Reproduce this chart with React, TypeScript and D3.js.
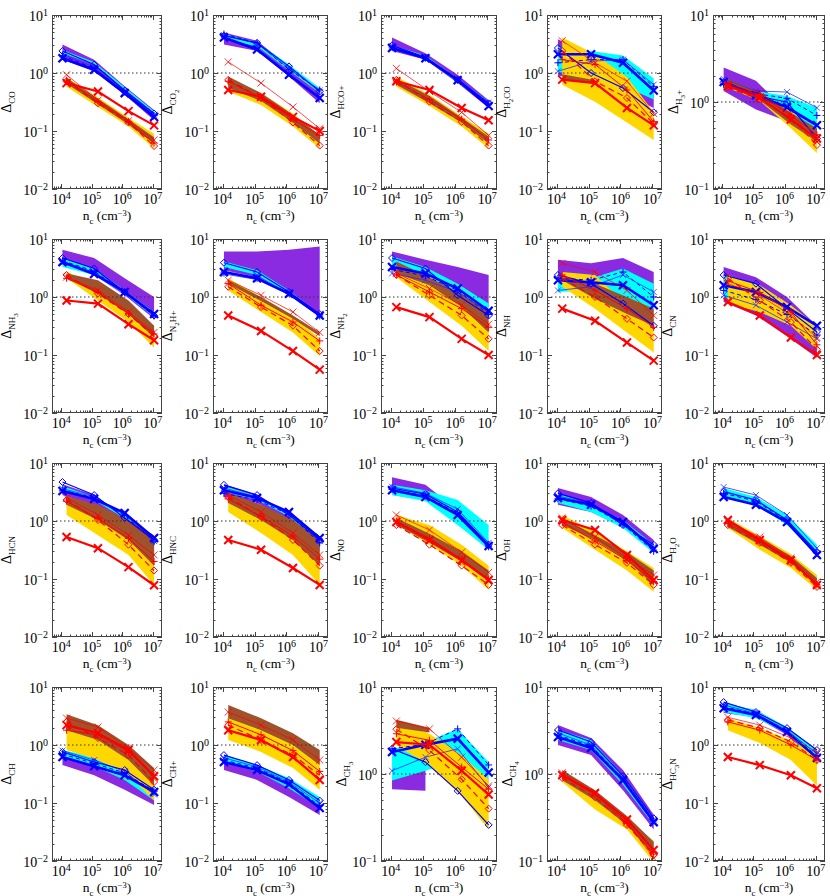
import React, { useEffect, useRef } from 'react';
import * as d3 from 'd3';

// one panel per species, row by row; "_" drops the next digit one more level
const species = ['CO', 'CO_2', 'HCO+', 'H_2CO', 'H_3+', 'NH_3', 'N_2H+', 'NH_2', 'NH', 'CN',
  'HCN', 'HNC', 'NO', 'OH', 'H_2O', 'CH', 'CH+', 'CH_3', 'CH_4', 'HC_3N'];

// bottom of the y axis for every panel (the top is always 10)
const yFloor = [0.01, 0.01, 0.01, 0.01, 0.1, 0.01, 0.01, 0.01, 0.01, 0.01,
  0.01, 0.01, 0.01, 0.01, 0.01, 0.01, 0.01, 0.1, 0.1, 0.01];

const densBlue = [1.1e4, 1.2e5, 1.2e6, 1.1e7];
const densRed = [1.5e4, 1.6e5, 1.6e6, 1.1e7];
const xTicks = [1e4, 1e5, 1e6, 1e7];

const purpleLo = [
  [1.7, 1.07, 0.42, 0.153], [3.1, 2.4, 0.87, 0.3], [2.4, 1.7, 0.67, 0.25], [0.9, 0.8, 0.45, 0.25], [1.34, 0.82, 0.6, 0.34],
  [3.6, 2.4, 1.07, 0.42], [2.9, 2.2, 1.22, 0.48], [3.6, 2.55, 1.5, 0.67], [1.95, 2.1, 2.1, 0.93], [0.82, 0.48, 0.21, 0.09],
  [2.8, 1.9, 0.7, 0.21], [2.6, 2.05, 0.85, 0.26], [2.8, 2.3, 0.96, 0.32], [1.9, 1.43, 0.79, 0.29], [2.6, 1.9, 0.9, 0.26],
  [0.45, 0.3, 0.17, 0.092], [0.37, 0.25, 0.127, 0.062], [0.67, 0.64, NaN, NaN], [2.15, 1.65, 0.65, 0.23], [3.55, 3.0, 1.49, 0.51],
];
const purpleHi = [
  [3.1, 1.7, 0.59, 0.23], [5.0, 3.6, 1.3, 0.5], [4.1, 2.2, 0.93, 0.34], [3.8, 2.0, 1.0, 0.45], [2.5, 1.75, 0.79, 0.42],
  [6.5, 4.7, 2.1, 1.0], [6.1, 6.1, 6.5, 7.4], [6.1, 4.4, 3.3, 2.4], [4.4, 3.8, 4.7, 2.7], [3.3, 2.2, 1.0, 0.32],
  [4.3, 2.8, 1.17, 0.39], [4.3, 2.8, 1.27, 0.47], [5.7, 4.2, 1.55, 0.47], [3.7, 2.6, 1.27, 0.47], [3.0, 2.2, 1.05, 0.3],
  [0.67, 0.51, 0.3, 0.17], [0.55, 0.4, 0.23, 0.11], [0.87, 1.14, NaN, NaN], [3.66, 2.6, 1.11, 0.34], [5.1, 4.0, 2.0, 0.76],
];
const cyanLo = [
  [2.2, 1.4, 0.52, 0.2], [3.8, 2.9, 1.1, 0.45], [2.7, 1.75, 0.7, 0.27], [1.0, 1.3, 0.6, 0.35], [1.5, 1.12, 0.72, 0.42],
  [3.3, 2.4, 1.14, 0.45], [3.3, 2.4, 1.14, 0.45], [3.3, 2.4, 1.22, 0.48], [1.22, 1.3, 0.87, 0.45], [1.0, 0.58, 0.37, 0.19],
  [3.2, 2.3, 1.1, 0.44], [3.2, 2.3, 1.2, 0.42], [2.8, 2.2, 0.85, 0.32], [2.05, 1.43, 0.76, 0.28], [2.6, 1.9, 0.85, 0.26],
  [0.6, 0.43, 0.25, 0.11], [0.51, 0.35, 0.18, 0.082], [0.84, 1.09, 1.43, 0.77], [2.46, 1.89, 0.75, 0.26], [3.7, 2.9, 1.6, 0.51],
];
const cyanHi = [
  [2.5, 1.55, 0.57, 0.22], [4.7, 3.4, 1.4, 0.55], [3.0, 2.0, 0.8, 0.32], [2.8, 2.4, 2.0, 0.8], [1.75, 1.34, 1.17, 0.86],
  [4.7, 3.1, 1.3, 0.55], [4.1, 2.9, 1.3, 0.51], [5.0, 3.3, 1.7, 0.77], [2.4, 2.1, 3.1, 1.7], [2.4, 1.7, 0.63, 0.28],
  [4.0, 2.6, 1.3, 0.5], [4.0, 2.7, 1.35, 0.5], [4.2, 3.4, 2.3, 0.85], [3.0, 1.9, 1.04, 0.39], [3.7, 2.6, 1.27, 0.39],
  [0.82, 0.62, 0.4, 0.2], [0.67, 0.45, 0.27, 0.127], [1.95, 2.33, 3.3, 1.37], [3.2, 2.46, 0.97, 0.31], [5.3, 4.0, 2.04, 0.82],
];
const goldLo = [
  [0.58, 0.26, 0.12, 0.05], [0.48, 0.28, 0.12, 0.05], [0.58, 0.27, 0.12, 0.05], [0.63, 0.32, 0.14, 0.07], [1.47, 1.03, 0.5, 0.26],
  [2.1, 0.87, 0.37, 0.134], [1.3, 0.55, 0.245, 0.096], [2.2, 0.82, 0.32, 0.117], [1.5, 0.63, 0.245, 0.11], [0.77, 0.55, 0.32, 0.125],
  [1.27, 0.57, 0.26, 0.079], [1.43, 0.62, 0.26, 0.079], [0.85, 0.39, 0.17, 0.065], [0.76, 0.32, 0.14, 0.06], [0.76, 0.32, 0.155, 0.065],
  [0.82, 0.55, 0.3, 0.11], [1.22, 0.76, 0.4, 0.17], [2.13, 1.25, 0.56, 0.23], [0.81, 0.39, 0.23, 0.097], [1.8, 1.08, 0.55, 0.2],
];
const goldHi = [
  [0.84, 0.38, 0.17, 0.09], [0.84, 0.45, 0.2, 0.084], [0.87, 0.42, 0.18, 0.09], [4.1, 2.1, 0.85, 0.21], [1.68, 1.23, 0.79, 0.42],
  [2.7, 1.7, 0.7, 0.32], [2.1, 1.0, 0.48, 0.19], [2.9, 1.95, 0.93, 0.39], [2.7, 2.4, 0.72, 0.42], [2.4, 1.6, 0.72, 0.32],
  [2.6, 1.7, 0.9, 0.32], [2.8, 1.9, 0.85, 0.32], [1.27, 0.85, 0.39, 0.17], [1.27, 0.65, 0.3, 0.155], [1.13, 0.55, 0.27, 0.117],
  [3.0, 1.96, 0.89, 0.37], [3.7, 2.5, 1.32, 0.6], [4.0, 2.9, 1.63, 0.87], [1.03, 0.6, 0.3, 0.17], [2.9, 1.96, 1.2, 0.67],
];
const brownLo = [
  [0.65, 0.29, 0.13, 0.06], [0.55, 0.33, 0.14, 0.06], [0.63, 0.3, 0.14, 0.06], [0.75, 0.65, NaN, NaN], [1.5, 1.05, 0.55, 0.35],
  [2.1, 1.14, 0.51, 0.2], [1.7, 0.85, 0.42, 0.21], [2.55, 1.6, 0.67, 0.245], [1.95, 0.93, 0.51, 0.32], [NaN, NaN, NaN, NaN],
  [1.9, 1.04, 0.47, 0.17], [2.05, 1.04, 0.47, 0.17], [0.85, 0.42, 0.2, 0.1], [0.85, 0.47, 0.21, 0.079], [0.79, 0.39, 0.19, 0.079],
  [1.8, 1.22, 0.55, 0.2], [2.9, 1.8, 1.0, 0.45], [3.4, 3.0, NaN, NaN], [0.85, 0.5, 0.26, 0.117], [NaN, NaN, NaN, NaN],
];
const brownHi = [
  [0.82, 0.36, 0.16, 0.078], [0.87, 0.45, 0.19, 0.085], [0.8, 0.4, 0.17, 0.08], [0.95, 0.75, NaN, NaN], [1.84, 1.3, 0.75, 0.5],
  [2.55, 1.95, 0.87, 0.32], [1.95, 1.0, 0.48, 0.245], [4.1, 2.2, 1.14, 0.55], [2.2, 1.7, 1.0, 0.63], [NaN, NaN, NaN, NaN],
  [2.7, 1.9, 1.04, 0.57], [3.0, 1.9, 1.04, 0.47], [1.13, 0.6, 0.3, 0.14], [1.13, 0.57, 0.29, 0.14], [1.04, 0.51, 0.25, 0.104],
  [3.4, 2.2, 1.0, 0.4], [4.9, 2.9, 1.6, 0.82], [4.2, 3.4, NaN, NaN], [1.11, 0.65, 0.33, 0.166], [NaN, NaN, NaN, NaN],
];

// model curves
const blueX = [
  [1.8, 1.14, 0.45, 0.175], [4.1, 2.55, 0.93, 0.37], [2.7, 1.8, 0.75, 0.27], [2.1, 2.1, 1.5, 0.5], [1.7, 1.2, 0.87, 0.54],
  [4.0, 2.5, 1.22, 0.51], [2.7, 2.1, 1.14, 0.48], [3.3, 2.55, 1.4, 0.58], [1.95, 1.8, 1.6, 0.72], [1.6, 1.22, 0.67, 0.32],
  [3.3, 2.4, 1.37, 0.51], [3.4, 2.5, 1.43, 0.51], [3.4, 2.6, 1.27, 0.37], [2.5, 1.9, 0.96, 0.33], [2.6, 1.9, 0.96, 0.26],
  [0.62, 0.43, 0.3, 0.155], [0.51, 0.37, 0.21, 0.082], [1.79, 2.17, 2.55, 1.04], [2.66, 1.99, 0.85, 0.28], [4.3, 3.3, 1.67, 0.6],
];
const blueD = [
  [2.4, 1.4, 0.5, 0.2], [4.4, 3.3, 1.3, 0.48], [3.0, 1.85, 0.77, 0.3], [2.7, 1.0, 0.55, 0.21], [1.68, 1.17, 1.0, 0.38],
  [4.7, 3.1, 1.22, 0.48], [3.9, 2.7, 1.22, 0.51], [4.7, 3.1, 1.07, 0.48], [2.4, 1.7, 0.77, 0.32], [2.4, 1.7, 0.63, 0.25],
  [4.7, 2.8, 1.13, 0.47], [4.2, 2.8, 1.27, 0.47], [3.7, 2.9, 1.43, 0.39], [3.0, 2.05, 0.85, 0.39], [3.2, 2.3, 1.04, 0.29],
  [0.76, 0.51, 0.37, 0.17], [0.67, 0.45, 0.25, 0.11], [1.95, 1.37, 0.64, 0.26], [3.2, 2.33, 0.95, 0.31], [5.5, 3.7, 1.96, 0.82],
];
const blueT = [
  [2.1, 1.25, 0.48, 0.19], [4.5, 3.2, 1.2, 0.5], [2.9, 1.9, 0.8, 0.31], [1.07, 1.6, 1.7, 0.63], [1.84, 1.34, 1.3, 0.86],
  [3.8, 2.7, 1.25, 0.5], [2.5, 2.0, 1.1, 0.46], [2.55, 1.95, 1.22, 0.55], [1.3, 1.5, 2.4, 1.22], [1.07, 0.72, 0.37, 0.19],
  [3.6, 2.6, 1.3, 0.45], [3.7, 2.6, 1.35, 0.45], [3.9, 3.0, 1.6, 0.42], [2.7, 2.0, 0.9, 0.36], [3.85, 2.8, 1.27, 0.34],
  [0.8, 0.55, 0.35, 0.14], [0.6, 0.42, 0.23, 0.1], [1.09, 1.56, 1.95, 0.7], [2.96, 2.15, 0.9, 0.3], [4.9, 3.5, 1.8, 0.7],
];
const blueP = [
  [2.0, 1.2, 0.47, 0.185], [4.7, 3.3, 1.14, 0.51], [2.8, 1.8, 0.75, 0.29], [1.5, 1.7, 1.7, 0.58], [1.6, 1.25, 1.1, 0.7],
  [4.2, 2.8, 1.2, 0.47], [2.6, 2.1, 1.15, 0.47], [3.0, 2.3, 1.3, 0.5], [2.1, 1.95, 2.7, 1.0], [1.3, 0.9, 0.5, 0.22],
  [3.4, 2.5, 1.25, 0.44], [3.0, 2.3, 1.3, 0.42], [3.5, 2.7, 1.35, 0.36], [2.4, 1.8, 0.88, 0.3], [3.0, 2.2, 1.0, 0.28],
  [0.7, 0.48, 0.33, 0.16], [0.55, 0.4, 0.22, 0.09], [1.95, 2.2, 3.3, 1.27], [2.8, 2.1, 0.88, 0.29], [4.6, 3.4, 1.75, 0.65],
];
const redX = [
  [0.67, 0.48, 0.22, 0.125], [0.51, 0.39, 0.175, 0.1], [0.72, 0.51, 0.25, 0.153], [0.77, 0.67, 0.25, 0.125], [1.53, 1.12, 0.63, 0.38],
  [0.87, 0.77, 0.34, 0.18], [0.48, 0.26, 0.117, 0.056], [0.67, 0.45, 0.19, 0.1], [0.63, 0.39, 0.164, 0.08], [0.82, 0.48, 0.2, 0.1],
  [0.53, 0.34, 0.16, 0.078], [0.47, 0.32, 0.155, 0.079], [0.96, 0.47, 0.21, 0.096], [1.04, 0.7, 0.26, 0.096], [1.04, 0.47, 0.21, 0.079],
  [2.2, 1.6, 0.82, 0.29], [1.8, 1.22, 0.62, 0.25], [2.33, 2.17, 1.09, 0.58], [0.97, 0.6, 0.3, 0.134], [0.62, 0.45, 0.3, 0.18],
];
const redD = [
  [0.72, 0.3, 0.14, 0.055], [0.76, 0.37, 0.14, 0.056], [0.76, 0.32, 0.144, 0.056], [2.4, 0.72, 0.37, 0.134], [1.47, 1.07, 0.66, 0.32],
  [2.4, 1.14, 0.51, 0.21], [1.5, 0.67, 0.32, 0.117], [2.4, 1.07, 0.48, 0.19], [2.1, 1.0, 0.42, 0.2], [2.1, 0.87, 0.37, 0.125],
  [2.3, 1.04, 0.39, 0.14], [2.6, 1.17, 0.47, 0.17], [0.85, 0.39, 0.17, 0.079], [0.85, 0.39, 0.19, 0.079], [0.85, 0.42, 0.19, 0.073],
  [2.5, 1.32, 0.67, 0.23], [2.2, 1.22, 0.67, 0.3], [3.27, 1.87, 0.87, 0.4], [0.9, 0.54, 0.26, 0.117], [2.7, 1.96, 1.13, 0.55],
];
const redT = [
  [0.93, 0.34, 0.15, 0.07], [1.55, 0.67, 0.26, 0.11], [1.2, 0.48, 0.21, 0.084], [3.6, 1.5, 0.72, 0.2], [1.6, 1.28, 0.72, 0.35],
  [2.2, 1.3, 0.55, 0.245], [1.95, 1.07, 0.55, 0.245], [2.55, 1.4, 0.72, 0.34], [3.8, 2.7, 1.3, 0.48], [1.7, 1.07, 0.48, 0.2],
  [2.5, 1.27, 0.57, 0.26], [2.8, 1.43, 0.62, 0.26], [1.27, 0.7, 0.29, 0.13], [1.13, 0.53, 0.23, 0.117], [0.98, 0.53, 0.23, 0.089],
  [2.9, 2.04, 0.89, 0.37], [3.7, 2.2, 1.22, 0.55], [4.06, 3.3, 1.56, 0.73], [1.03, 0.62, 0.28, 0.108], [3.0, 2.2, 1.32, 0.76],
];
const redP = [
  [0.75, 0.32, 0.145, 0.062], [0.72, 0.37, 0.16, 0.084], [0.7, 0.35, 0.16, 0.07], [1.7, 1.4, 0.51, 0.144], [1.55, 1.2, 0.7, 0.42],
  [2.1, 1.22, 0.51, 0.23], [1.7, 0.72, 0.37, 0.175], [2.4, 1.22, 0.63, 0.3], [2.4, 1.3, 0.63, 0.3], [1.9, 1.2, 0.55, 0.15],
  [2.2, 1.1, 0.5, 0.2], [2.4, 1.2, 0.55, 0.22], [1.0, 0.5, 0.22, 0.1], [0.95, 0.45, 0.21, 0.09], [0.9, 0.45, 0.2, 0.08],
  [1.8, 1.49, 0.76, 0.3], [2.5, 1.5, 0.8, 0.35], [2.9, 2.44, 1.2, 0.67], [0.95, 0.58, 0.27, 0.12], [2.5, 1.8, 1.0, 0.55],
];

// layout of the 4x5 grid
const colLeft = [52, 213, 381, 547, 713];
const colRight = [162, 328, 497, 662, 825];
const rowTop = [15, 239, 463, 687];
const panelH = 174;
const FONT = '"Liberation Serif", "DejaVu Serif", serif';

const bands = [
  { lo: purpleLo, hi: purpleHi, fill: '#8a2be2', xs: densBlue },
  { lo: cyanLo, hi: cyanHi, fill: '#00ffff', xs: densBlue },
  { lo: goldLo, hi: goldHi, fill: '#ffd700', xs: densRed },
  { lo: brownLo, hi: brownHi, fill: '#a0522d', xs: densRed },
];

const curves = [
  { data: blueP, xs: densBlue, color: '#0000ff', width: 1, dash: '4,3', mark: 'plus', ms: 3.5, mw: 1 },
  { data: blueT, xs: densBlue, color: '#2a2aff', width: 0.8, dash: null, mark: 'x', ms: 3, mw: 0.8 },
  { data: blueD, xs: densBlue, color: '#0000ff', width: 1.2, dash: null, mark: 'diamond', ms: 3.5, mw: 1 },
  { data: blueX, xs: densBlue, color: '#0000ff', width: 2.6, dash: null, mark: 'x', ms: 4, mw: 2.2 },
  { data: redP, xs: densRed, color: '#ff0000', width: 1, dash: null, mark: 'plus', ms: 3.5, mw: 1 },
  { data: redT, xs: densRed, color: '#ff0000', width: 0.7, dash: null, mark: 'x', ms: 3.5, mw: 0.8 },
  { data: redD, xs: densRed, color: '#ff0000', width: 1.2, dash: '6,4', mark: 'diamond', ms: 3.5, mw: 1 },
  { data: redX, xs: densRed, color: '#ff0000', width: 2.2, dash: null, mark: 'x', ms: 4, mw: 2 },
];

// split "H_2CO" into [text, level] pieces: level 1 = subscript, 2 = sub-subscript
function parseName(name: string) {
  const segs: [string, number][] = [];
  for (let k = 0; k < name.length; k++) {
    if (name[k] === '_') { segs.push([name[k + 1], 2]); k++; continue; }
    const last = segs[segs.length - 1];
    if (last && last[1] === 1) last[0] += name[k];
    else segs.push([name[k], 1]);
  }
  return segs;
}

// append tspans with vertical offsets; level -1 = superscript
function rich(text: any, segs: [string, number][], sizes: Record<number, number>, sup = -5) {
  const offs: Record<number, number> = { 0: 0, 1: 3.5, 2: 6.5, [-1]: sup };
  let cur = 0;
  segs.forEach(([t, lvl]) => {
    text.append('tspan').attr('dy', offs[lvl] - cur).attr('font-size', sizes[lvl]).text(t);
    cur = offs[lvl];
  });
}

function marker(g: any, kind: string, cx: number, cy: number, s: number, color: string, sw: number) {
  let d;
  if (kind === 'x') d = `M${cx - s},${cy - s}L${cx + s},${cy + s}M${cx - s},${cy + s}L${cx + s},${cy - s}`;
  else if (kind === 'plus') d = `M${cx - s},${cy}H${cx + s}M${cx},${cy - s}V${cy + s}`;
  else d = `M${cx},${cy - s}L${cx + s},${cy}L${cx},${cy + s}L${cx - s},${cy}Z`;
  g.append('path').attr('d', d).attr('fill', 'none').attr('stroke', color).attr('stroke-width', sw);
}

export default function App() {
  const ref = useRef<SVGSVGElement>(null);

  useEffect(() => {
    const svg = d3.select(ref.current);
    svg.selectAll('*').remove();
    const defs = svg.append('defs');

    species.forEach((name, i) => {
      const r = Math.floor(i / 5), c = i % 5;
      const w = colRight[c] - colLeft[c];
      const h = panelH;
      const g = svg.append('g').attr('transform', `translate(${colLeft[c]},${rowTop[r]})`);

      const x = d3.scaleLog().domain([5e3, 2e7]).range([0, w]);
      const y = d3.scaleLog().domain([yFloor[i], 10]).range([h, 0]);

      defs.append('clipPath').attr('id', `clip${i}`)
        .append('rect').attr('width', w).attr('height', h);
      const plot = g.append('g').attr('clip-path', `url(#clip${i})`);

      // shaded ranges
      bands.forEach(b => {
        const pts = d3.range(4)
          .filter(k => isFinite(b.lo[i][k]) && isFinite(b.hi[i][k]))
          .map(k => ({ x: b.xs[k], lo: b.lo[i][k], hi: b.hi[i][k] }));
        if (pts.length < 2) return;
        const area = d3.area<any>().x(d => x(d.x)).y0(d => y(d.lo)).y1(d => y(d.hi));
        plot.append('path').attr('d', area(pts)).attr('fill', b.fill);
      });

      // reference line at unity
      plot.append('line')
        .attr('x1', 0).attr('x2', w).attr('y1', y(1)).attr('y2', y(1))
        .attr('stroke', '#333').attr('stroke-width', 1).attr('stroke-dasharray', '1.5,2.5');

      // model curves
      curves.forEach(cv => {
        const pts = cv.data[i].map((v, k) => [x(cv.xs[k]), y(v)]);
        const path = plot.append('path').attr('d', d3.line()(pts as any))
          .attr('fill', 'none').attr('stroke', cv.color).attr('stroke-width', cv.width);
        if (cv.dash) path.attr('stroke-dasharray', cv.dash);
        pts.forEach(p => marker(plot, cv.mark, p[0], p[1], cv.ms, cv.color, cv.mw));
      });

      // axes box
      const ax = g.append('g').attr('stroke', '#444').attr('stroke-width', 1).attr('fill', 'none');
      ax.append('rect').attr('x', 0.5).attr('y', 0.5).attr('width', w - 1).attr('height', h - 1);

      const yMajor: number[] = [];
      const yMinor: number[] = [];
      for (let e = Math.round(Math.log10(yFloor[i])); e <= 1; e++) {
        yMajor.push(Math.pow(10, e));
        if (e < 1) for (let k = 2; k <= 9; k++) yMinor.push(k * Math.pow(10, e));
      }
      const xMinor: number[] = [];
      for (let e = 3; e <= 7; e++) for (let k = 2; k <= 9; k++) {
        const v = k * Math.pow(10, e);
        if (v > 5e3 && v < 2e7) xMinor.push(v);
      }
      yMajor.forEach(v => {
        const yy = Math.round(y(v)) + 0.5;
        ax.append('path').attr('d', `M0,${yy}H5M${w},${yy}H${w - 5}`);
      });
      yMinor.forEach(v => {
        const yy = Math.round(y(v)) + 0.5;
        ax.append('path').attr('d', `M0,${yy}H2.5M${w},${yy}H${w - 2.5}`);
      });
      xTicks.forEach(v => {
        const xx = Math.round(x(v)) + 0.5;
        ax.append('path').attr('d', `M${xx},${h}V${h - 5}M${xx},0V5`);
      });
      xMinor.forEach(v => {
        const xx = Math.round(x(v)) + 0.5;
        ax.append('path').attr('d', `M${xx},${h}V${h - 2.5}M${xx},0V2.5`);
      });

      // tick labels
      yMajor.forEach(v => {
        const e = Math.round(Math.log10(v));
        const t = g.append('text').attr('x', -4).attr('y', y(v) + 6)
          .attr('text-anchor', 'end').attr('font-family', FONT).attr('fill', '#000');
        rich(t, [['10', 0], [e < 0 ? `\u2212${-e}` : `${e}`, -1]], { 0: 14, [-1]: 10 });
      });
      xTicks.forEach(v => {
        const e = Math.round(Math.log10(v));
        const t = g.append('text').attr('x', x(v)).attr('y', h + 15)
          .attr('text-anchor', 'middle').attr('font-family', FONT).attr('fill', '#000');
        rich(t, [['10', 0], [`${e}`, -1]], { 0: 14, [-1]: 10 });
      });

      // axis titles
      const xt = g.append('text').attr('x', w / 2).attr('y', h + 31)
        .attr('text-anchor', 'middle').attr('font-family', FONT).attr('fill', '#000');
      rich(xt, [['n', 0], ['c', 1], [' (cm', 0], ['\u22123', -1], [')', 0]], { 0: 13.5, 1: 9, [-1]: 8.5 }, -4.5);

      const lx = yFloor[i] === 0.1 ? -35 : -41;
      const yt = g.append('text')
        .attr('transform', `translate(${lx},${h / 2}) rotate(-90)`)
        .attr('text-anchor', 'middle').attr('font-family', FONT).attr('fill', '#000');
      rich(yt, [['\u0394', 0], ...parseName(name)], { 0: 14, 1: 9, 2: 7 });
    });
  }, []);

  return (
    <div>
      <svg ref={ref} width={830} height={896}
        style={{ position: 'absolute', left: 0, top: 0, background: '#fff' }} />
    </div>
  );
}
